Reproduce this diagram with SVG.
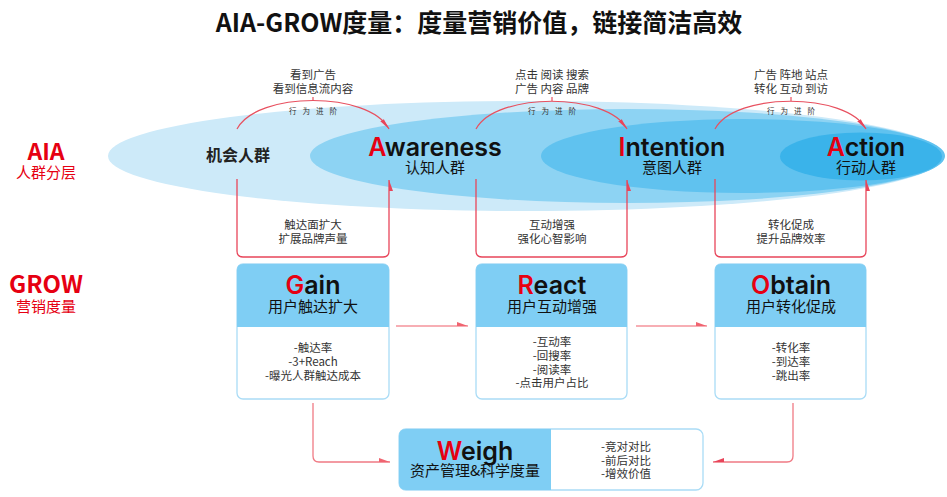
<svg xmlns="http://www.w3.org/2000/svg" width="947" height="497" viewBox="0 0 947 497">
<style>
text{font-family:"Noto Sans CJK SC","Noto Sans",sans-serif;fill:#222;}
.title{font-size:25px;font-weight:700;fill:#111;}
.side{font-weight:700;fill:#e60012;text-anchor:middle;}
.sideSub{font-size:15px;fill:#e60012;text-anchor:middle;}
.big{font-family:"Inter","Noto Sans",sans-serif;font-size:25px;font-weight:600;fill:#111;text-anchor:middle;}
.red{fill:#e60012;}
.sub{font-size:15px;fill:#111;text-anchor:middle;}
.small{font-size:11.5px;fill:#333;text-anchor:middle;}
.tiny{font-size:7.5px;fill:#333;text-anchor:middle;letter-spacing:6px;}
.arc{fill:none;stroke:#e8505f;stroke-width:1.2;}
.ubox{fill:none;stroke:#e8455a;stroke-width:1.3;}
.flow{fill:none;stroke:#f4939b;stroke-width:1.5;}
.wline{fill:none;stroke:#f07a84;stroke-width:1.3;}
.hdr{fill:#7fcef4;}
.body{fill:#fff;stroke:#aadcf6;stroke-width:1.3;}
</style>
<defs>
<marker id="ha" viewBox="0 0 12 10" markerWidth="12" markerHeight="10" refX="11" refY="5" orient="auto" markerUnits="userSpaceOnUse"><path d="M0,1 L11,5 L0,5 Z" fill="#f06470"/></marker>
<marker id="hb" viewBox="0 0 12 10" markerWidth="12" markerHeight="10" refX="11" refY="5" orient="auto" markerUnits="userSpaceOnUse"><path d="M0,9 L11,5 L0,5 Z" fill="#e8455a"/></marker>
</defs>
<rect width="947" height="497" fill="#fff"/>

<text id="title" class="title" x="479" y="32" text-anchor="middle">AIA-GROW度量：度量营销价值，链接简洁高效</text>

<g id="aia-label">
<text class="side" x="46" y="160" font-size="23">AIA</text>
<text class="sideSub" x="46" y="178">人群分层</text>
</g>
<g id="grow-label">
<text class="side" x="46" y="293" font-size="24">GROW</text>
<text class="sideSub" x="46" y="312">营销度量</text>
</g>

<g id="aia-ellipses">
<ellipse cx="526" cy="156" rx="418" ry="55" fill="#cdeaf9"/>
<ellipse cx="627" cy="156" rx="317" ry="47" fill="#8dd3f3"/>
<ellipse cx="743" cy="156" rx="202" ry="37" fill="#60c2ef"/>
<ellipse cx="861" cy="156.5" rx="81" ry="24" fill="#3ab3ea"/>
</g>

<g id="node-opportunity"><text x="238" y="161" font-size="16" font-weight="700" fill="#111" text-anchor="middle">机会人群</text></g>
<g id="node-awareness">
<text class="big" x="435" y="156"><tspan class="red">A</tspan>wareness</text>
<text class="sub" x="435" y="173">认知人群</text>
</g>
<g id="node-intention">
<text class="big" x="672" y="156"><tspan class="red">I</tspan>ntention</text>
<text class="sub" x="672" y="173">意图人群</text>
</g>
<g id="node-action">
<text class="big" x="866" y="156"><tspan class="red">A</tspan>ction</text>
<text class="sub" x="866" y="173">行动人群</text>
</g>

<g id="connectors">
<path class="arc" d="M237,129 C257,91 369,91 389,129" marker-end="url(#hb)"/>
<path class="arc" d="M313,97 V100"/>
<path class="arc" d="M476,129 C496,92 607,92 627,129" marker-end="url(#hb)"/>
<path class="arc" d="M552,97 V101"/>
<path class="arc" d="M715,129 C735,92 846,92 866,129" marker-end="url(#hb)"/>
<path class="arc" d="M791,97 V101"/>

<path class="ubox" d="M237,179 V251 Q237,257 243,257 H383 Q389,257 389,251 V180" marker-end="url(#hb)"/>
<path class="ubox" d="M476,179 V251 Q476,257 482,257 H621 Q627,257 627,251 V180" marker-end="url(#hb)"/>
<path class="ubox" d="M715,179 V251 Q715,257 721,257 H860 Q866,257 866,251 V180" marker-end="url(#hb)"/>

<path class="flow" d="M396,326 H468" marker-end="url(#ha)"/>
<path class="flow" d="M636,326 H707" marker-end="url(#ha)"/>

<path class="wline" d="M313,403 V456 Q313,462 319,462 H390" marker-end="url(#ha)"/>
<path class="wline" d="M793,403 V456 Q793,462 787,462 H713" marker-end="url(#hb)"/>
</g>

<g id="connector-labels">
<text class="small" x="313" y="79">看到广告</text>
<text class="small" x="313" y="93">看到信息流内容</text>
<text class="tiny" x="316" y="114">行为进阶</text>
<text class="small" x="552" y="79">点击 阅读 搜索</text>
<text class="small" x="552" y="93">广告 内容 品牌</text>
<text class="tiny" x="555" y="114">行为进阶</text>
<text class="small" x="791" y="79">广告 阵地 站点</text>
<text class="small" x="791" y="93">转化 互动 到访</text>
<text class="tiny" x="794" y="114">行为进阶</text>
<text class="small" x="313" y="229">触达面扩大</text>
<text class="small" x="313" y="243">扩展品牌声量</text>
<text class="small" x="552" y="229">互动增强</text>
<text class="small" x="552" y="243">强化心智影响</text>
<text class="small" x="791" y="229">转化促成</text>
<text class="small" x="791" y="243">提升品牌效率</text>
</g>

<g id="node-gain">
<rect class="body" x="237" y="264" width="152" height="135" rx="6"/>
<path class="hdr" d="M237,327 V270 Q237,264 243,264 H383 Q389,264 389,270 V327 Z"/>
<text class="big" x="313" y="294"><tspan class="red">G</tspan>ain</text>
<text class="sub" x="313" y="312">用户触达扩大</text>
<text class="small" x="313" y="352">-触达率</text>
<text class="small" x="313" y="366">-3+Reach</text>
<text class="small" x="313" y="380">-曝光人群触达成本</text>
</g>

<g id="node-react">
<rect class="body" x="476" y="264" width="151" height="135" rx="6"/>
<path class="hdr" d="M476,327 V270 Q476,264 482,264 H621 Q627,264 627,270 V327 Z"/>
<text class="big" x="552" y="294"><tspan class="red">R</tspan>eact</text>
<text class="sub" x="552" y="312">用户互动增强</text>
<text class="small" x="552" y="346">-互动率</text>
<text class="small" x="552" y="360">-回搜率</text>
<text class="small" x="552" y="373.5">-阅读率</text>
<text class="small" x="552" y="387">-点击用户占比</text>
</g>

<g id="node-obtain">
<rect class="body" x="715" y="264" width="151" height="135" rx="6"/>
<path class="hdr" d="M715,327 V270 Q715,264 721,264 H860 Q866,264 866,270 V327 Z"/>
<text class="big" x="791" y="294"><tspan class="red">O</tspan>btain</text>
<text class="sub" x="791" y="312">用户转化促成</text>
<text class="small" x="791" y="352">-转化率</text>
<text class="small" x="791" y="366">-到达率</text>
<text class="small" x="791" y="380">-跳出率</text>
</g>

<g id="node-weigh">
<rect class="body" x="399" y="429" width="304" height="61" rx="7"/>
<path class="hdr" d="M551,429 V490 H406 Q399,490 399,483 V436 Q399,429 406,429 Z"/>
<text class="big" x="475" y="460" font-size="26"><tspan class="red">W</tspan>eigh</text>
<text class="sub" x="475" y="476">资产管理&amp;科学度量</text>
<text class="small" x="626" y="451">-竞对对比</text>
<text class="small" x="626" y="464.5">-前后对比</text>
<text class="small" x="626" y="478">-增效价值</text>
</g>
</svg>
